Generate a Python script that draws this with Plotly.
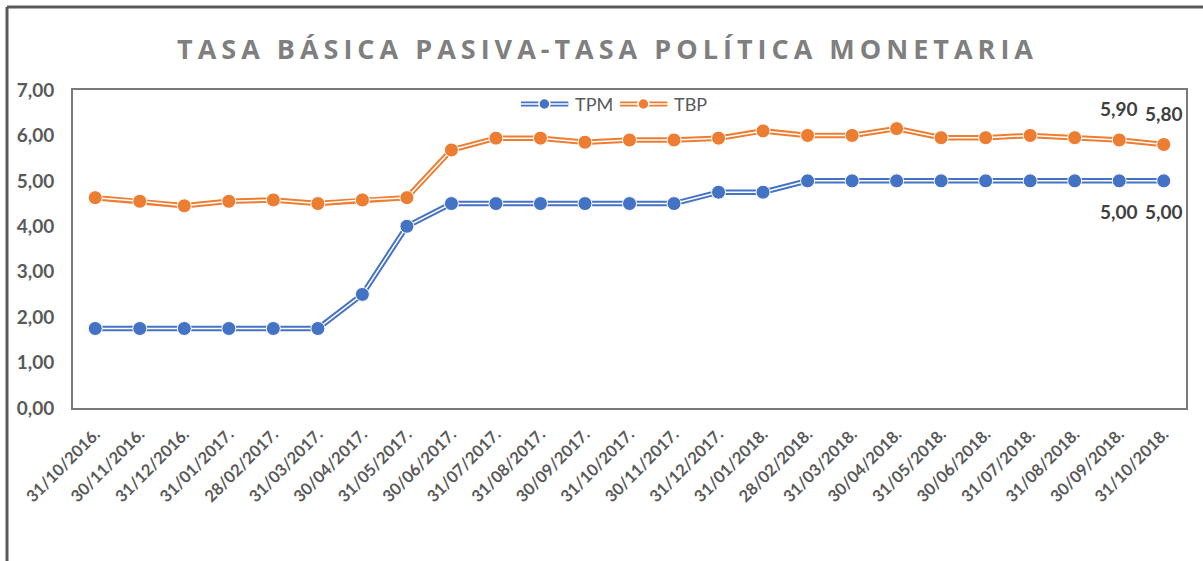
import plotly.graph_objects as go

dates = ["31/10/2016.", "30/11/2016.", "31/12/2016.", "31/01/2017.", "28/02/2017.",
         "31/03/2017.", "30/04/2017.", "31/05/2017.", "30/06/2017.", "31/07/2017.",
         "31/08/2017.", "30/09/2017.", "31/10/2017.", "30/11/2017.", "31/12/2017.",
         "31/01/2018.", "28/02/2018.", "31/03/2018.", "30/04/2018.", "31/05/2018.",
         "30/06/2018.", "31/07/2018.", "31/08/2018.", "30/09/2018.", "31/10/2018."]
tpm = [1.75, 1.75, 1.75, 1.75, 1.75, 1.75, 2.50, 4.00, 4.50, 4.50, 4.50, 4.50, 4.50,
       4.50, 4.75, 4.75, 5.00, 5.00, 5.00, 5.00, 5.00, 5.00, 5.00, 5.00, 5.00]
tbp = [4.63, 4.55, 4.45, 4.55, 4.58, 4.50, 4.58, 4.63, 5.68, 5.94, 5.94, 5.85, 5.90,
       5.90, 5.94, 6.10, 6.00, 6.00, 6.15, 5.95, 5.95, 6.00, 5.95, 5.90, 5.80]
y_ticks = [0, 1, 2, 3, 4, 5, 6, 7]
labelled_idx = [23, 24]

BLUE = "#4472C4"
ORANGE = "#ED7D31"
GREY = "#595959"

fig = go.Figure()
for name, vals, col in [("TPM", tpm, BLUE), ("TBP", tbp, ORANGE)]:
    fig.add_trace(go.Scatter(x=dates, y=vals, mode="lines", line=dict(color=col, width=5.5),
                             showlegend=False, hoverinfo="skip"))
    fig.add_trace(go.Scatter(x=dates, y=vals, mode="lines", line=dict(color="white", width=1.5),
                             showlegend=False, hoverinfo="skip"))
    fig.add_trace(go.Scatter(x=dates, y=vals, mode="markers", name=name,
                             marker=dict(color=col, size=14, line=dict(color="white", width=1)),
                             showlegend=False))

for i in labelled_idx:
    fig.add_annotation(x=dates[i], y=tbp[i], text=f"{tbp[i]:.2f}".replace(".", ","),
                       showarrow=False, yshift=31,
                       font=dict(family="Lato", size=19, color="#404040", weight="bold"))
    fig.add_annotation(x=dates[i], y=tpm[i], text=f"{tpm[i]:.2f}".replace(".", ","),
                       showarrow=False, yshift=-31,
                       font=dict(family="Lato", size=19, color="#404040", weight="bold"))

# manual legend (double line with dot)
def legend_item(x0, x1, xd, xt, col, label):
    yl = 0.956
    fig.add_shape(type="line", xref="paper", yref="paper", x0=x0, x1=x1, y0=yl, y1=yl,
                  line=dict(color=col, width=5))
    fig.add_shape(type="line", xref="paper", yref="paper", x0=x0, x1=x1, y0=yl, y1=yl,
                  line=dict(color="white", width=1.3))
    fig.add_shape(type="circle", xref="paper", yref="paper", xsizemode="pixel", ysizemode="pixel",
                  xanchor=xd, yanchor=yl, x0=-5.5, x1=5.5, y0=-5.5, y1=5.5,
                  fillcolor=col, line=dict(color="white", width=1.5))
    fig.add_annotation(xref="paper", yref="paper", x=xt, y=yl, text=label, showarrow=False,
                       xanchor="left", yanchor="middle",
                       font=dict(family="Lato", size=18, color=GREY))

legend_item(0.4025, 0.445, 0.4235, 0.449, BLUE, "TPM")
legend_item(0.4915, 0.534, 0.5125, 0.538, ORANGE, "TBP")

# outer chart frame (top + left)
fig.add_shape(type="line", xref="paper", yref="paper", x0=-0.0593, x1=1.02, y0=1.261, y1=1.261,
              line=dict(color=GREY, width=3))
fig.add_shape(type="line", xref="paper", yref="paper", x0=-0.0593, x1=-0.0593, y0=1.261, y1=-0.49,
              line=dict(color=GREY, width=3))

fig.update_layout(
    width=1203, height=561,
    margin=dict(l=73, r=17, t=90, b=153),
    paper_bgcolor="white", plot_bgcolor="white",
    separators=",.",
    title=dict(text="TASA BÁSICA PASIVA-TASA POLÍTICA MONETARIA",
               xref="container", yref="container", x=0.505, y=0.912,
               xanchor="center", yanchor="middle",
               font=dict(family="Open Sans", size=27, color="#7f7f7f", weight="bold")),
    xaxis=dict(type="category", range=[-0.5, len(dates) - 0.5], showgrid=False,
               showline=True, mirror=True,
               linecolor="#7a7a7a", linewidth=2, ticks="", tickangle=-45,
               ticklabelstandoff=8,
               tickfont=dict(family="Lato", size=16.5, color=GREY, weight="bold")),
    yaxis=dict(range=[0, 7], tickvals=y_ticks, tickformat=".2f", showgrid=False,
               showline=True, mirror=True, linecolor="#7a7a7a", linewidth=2, ticks="",
               ticklabelstandoff=13, zeroline=False,
               tickfont=dict(family="Lato", size=19, color=GREY, weight="bold")),
    showlegend=False,
)

post = ("document.body.style.margin='0';"
        "document.querySelectorAll('.gtitle').forEach(function(t){t.style.letterSpacing='5px';});")
fig.write_html("out.html", post_script=post, config={"displayModeBar": False})
